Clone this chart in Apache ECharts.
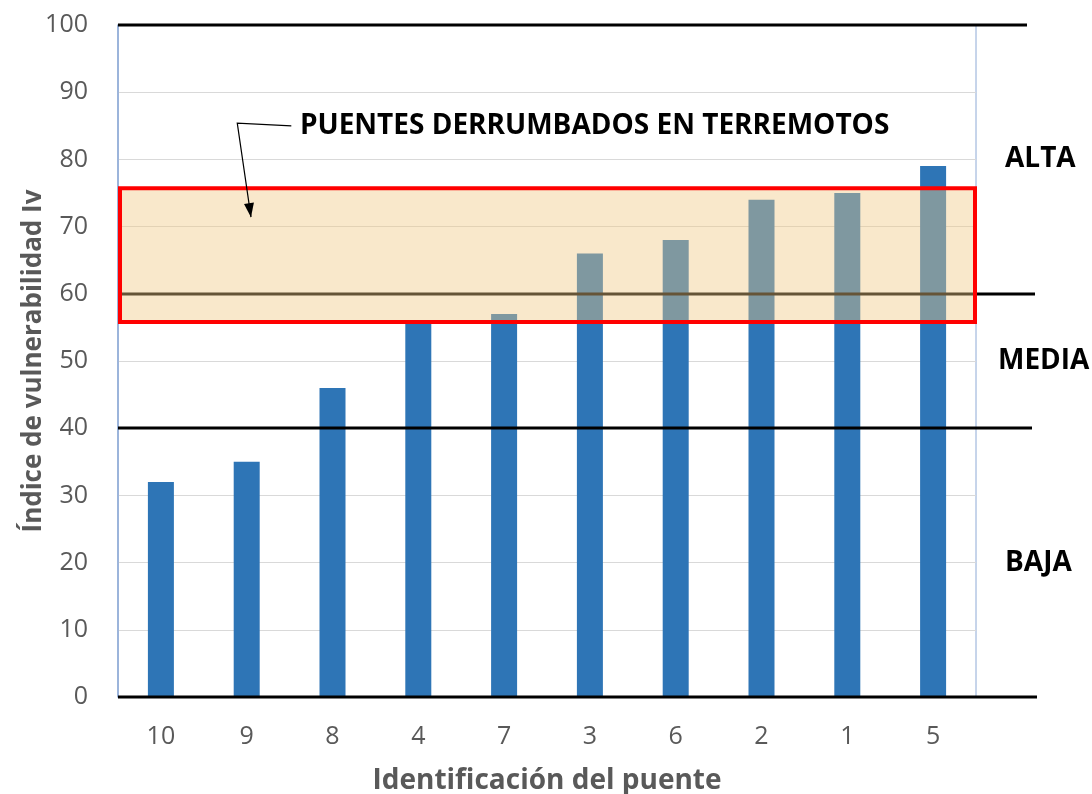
<!DOCTYPE html>
<html>
<head>
<meta charset="utf-8">
<script src="https://cdn.jsdelivr.net/npm/echarts@6/dist/echarts.min.js"></script>
<style>
  html, body { margin: 0; padding: 0; background: #fff; }
  #chart { width: 1092px; height: 794px; }
</style>
</head>
<body>
<div id="chart"></div>
<script>
// Bridges ordered by vulnerability index
const categories = ['10', '9', '8', '4', '7', '3', '6', '2', '1', '5'];
const vulnerability = [32, 35, 46, 56, 57, 66, 68, 74, 75, 79];

// Y axis scale
const yMin = 0;
const yMax = 100;
const yStep = 10;

// Thresholds separating the vulnerability levels
const levelLines = [0, 40, 60, 100];
const levelLabels = ['ALTA', 'MEDIA', 'BAJA'];
const levelLabelValues = [80, 50, 20];

// Range of indices for bridges that collapsed in earthquakes
const collapseBand = [55.8, 75.7];
const collapseTitle = 'PUENTES DERRUMBADOS EN TERREMOTOS';

const xTitle = 'Identificación del puente';
const yTitle = 'Índice de vulnerabilidad Iv';

const FONT = '"Open Sans", "DejaVu Sans", sans-serif';
const LEVEL_LINE_END = [1037, 1032, 1035, 1027];
const LEVEL_LABEL_OFFSET = [29, 22, 29];

const chart = echarts.init(document.getElementById('chart'), null, { renderer: 'canvas' });

chart.setOption({
  animation: false,
  backgroundColor: '#ffffff',
  grid: {
    left: 118, right: 116, top: 25, bottom: 97,
    outerBoundsMode: 'none',
    containLabel: false,
    show: true, borderColor: '#8eaad6', borderWidth: 1, backgroundColor: 'transparent'
  },
  xAxis: {
    type: 'category',
    data: categories,
    axisLine: { show: false },
    axisTick: { show: false },
    axisLabel: { color: '#595959', fontFamily: FONT, fontSize: 25, margin: 27 },
    name: xTitle,
    nameLocation: 'middle',
    nameGap: 70,
    nameMoveOverlap: false,
    nameTextStyle: { color: '#595959', fontFamily: FONT, fontSize: 28, fontWeight: 'bold' }
  },
  yAxis: {
    type: 'value',
    min: yMin, max: yMax, interval: yStep,
    axisLine: { show: true, lineStyle: { color: '#8eaad6', width: 1.5 } },
    axisTick: { show: false },
    splitLine: { lineStyle: { color: '#d9d9d9', width: 1 } },
    axisLabel: { color: '#595959', fontFamily: FONT, fontSize: 25, margin: 30 },
    name: yTitle,
    nameLocation: 'middle',
    nameGap: 71,
    nameMoveOverlap: false,
    nameTextStyle: { color: '#595959', fontFamily: FONT, fontSize: 26, fontWeight: 'bold' }
  },
  series: [
    {
      type: 'bar',
      data: vulnerability,
      barWidth: 26,
      z: 2,
      itemStyle: { color: '#2e75b6' }
    }
  ]
});

function drawOverlay() {
  const gridRect = chart.getModel().getComponent('grid').coordinateSystem.getRect();
  const x0 = gridRect.x;
  const right = gridRect.x + gridRect.width;
  const yPx = v => chart.convertToPixel({ yAxisIndex: 0 }, v);
  const xPx = i => chart.convertToPixel({ xAxisIndex: 0 }, i);
  const step = xPx(1) - xPx(0);
  const graphics = [];

  // threshold lines extending past the plot area
  levelLines.forEach((v, i) => {
    const y = Math.round(yPx(v));
    graphics.push({
      type: 'line', z: 5,
      shape: { x1: x0, y1: y, x2: LEVEL_LINE_END[i], y2: y },
      style: { stroke: '#000', lineWidth: 3 }
    });
  });

  // translucent band with red outline over the collapsed-bridge range
  const bTop = yPx(collapseBand[1]);
  const bBot = yPx(collapseBand[0]);
  graphics.push({
    type: 'rect', z: 15,
    shape: { x: x0 + 2, y: bTop, width: gridRect.width - 3, height: bBot - bTop },
    style: { fill: 'rgba(240, 200, 130, 0.42)', stroke: '#ff0000', lineWidth: 4 }
  });

  // level names to the right of the plot
  levelLabels.forEach((t, i) => {
    graphics.push({
      type: 'text', z: 20,
      x: right + LEVEL_LABEL_OFFSET[i], y: yPx(levelLabelValues[i]),
      style: {
        text: t, fill: '#000', font: 'bold 28px ' + FONT,
        textAlign: 'left', textVerticalAlign: 'middle'
      }
    });
  });

  // annotation title and its pointer
  graphics.push({
    type: 'text', z: 20,
    x: xPx(1) + step * 0.62, y: yPx(84.9),
    style: {
      text: collapseTitle, fill: '#000', font: 'bold 28px ' + FONT,
      textAlign: 'left', textVerticalAlign: 'middle'
    }
  });
  const p1 = [xPx(1) + step * 0.52, yPx(85.0)];
  const p2 = [xPx(0) + step * 0.89, yPx(85.4)];
  const tip = [xPx(1) + step * 0.05, yPx(71.4)];
  graphics.push({
    type: 'polyline', z: 20,
    shape: { points: [p1, p2, tip] },
    style: { stroke: '#000', lineWidth: 1.2, fill: null }
  });
  const dx = tip[0] - p2[0], dy = tip[1] - p2[1];
  const len = Math.sqrt(dx * dx + dy * dy);
  const ux = dx / len, uy = dy / len;
  const hl = 14, hw = 5;
  const bx = tip[0] - ux * hl, by = tip[1] - uy * hl;
  graphics.push({
    type: 'polygon', z: 20,
    shape: { points: [tip, [bx - uy * hw, by + ux * hw], [bx + uy * hw, by - ux * hw]] },
    style: { fill: '#000' }
  });

  chart.setOption({ graphic: graphics });
}

drawOverlay();
</script>
</body>
</html>
